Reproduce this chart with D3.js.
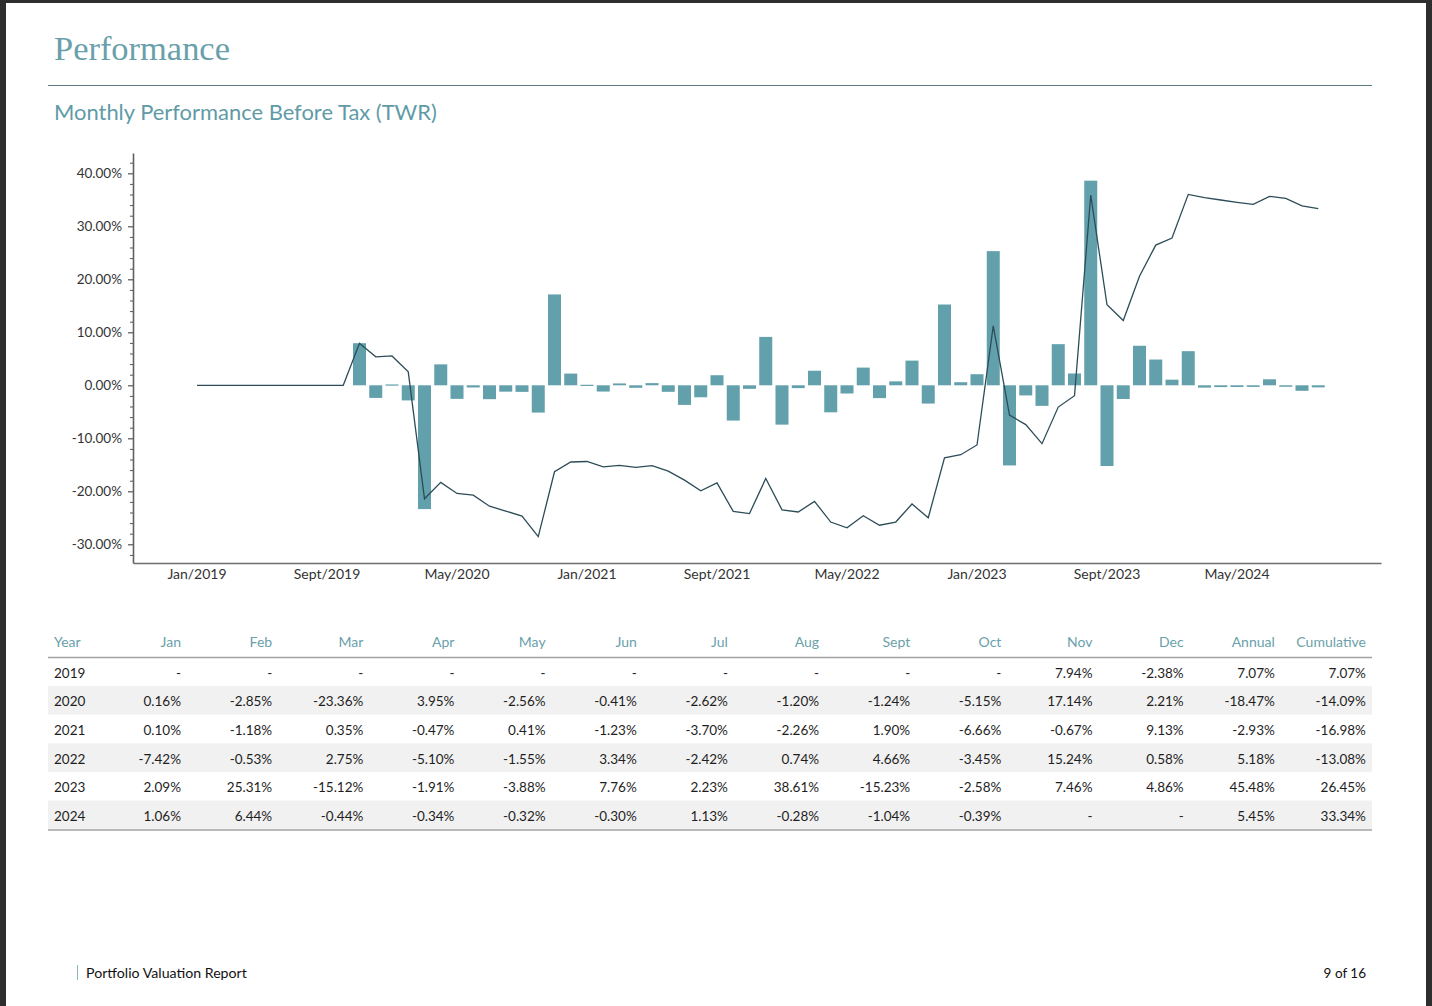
<!DOCTYPE html>
<html>
<head>
<meta charset="utf-8">
<script src="https://cdn.jsdelivr.net/npm/d3@7"></script>
<style>
  html, body { margin: 0; padding: 0; background: #2e2e2e; }
  svg { display: block; }
</style>
</head>
<body>
<svg id="page" width="1432" height="1006"></svg>
<script>
// ---------------- DATA ----------------
const months = ['Jan','Feb','Mar','Apr','May','Jun','Jul','Aug','Sept','Oct','Nov','Dec'];
const years = [2019, 2020, 2021, 2022, 2023, 2024];

// Monthly returns (%), null = no value ("-")
const returns2019 = [null, null, null, null, null, null, null, null, null, null, 7.94, -2.38];
const returns2020 = [0.16, -2.85, -23.36, 3.95, -2.56, -0.41, -2.62, -1.20, -1.24, -5.15, 17.14, 2.21];
const returns2021 = [0.10, -1.18, 0.35, -0.47, 0.41, -1.23, -3.70, -2.26, 1.90, -6.66, -0.67, 9.13];
const returns2022 = [-7.42, -0.53, 2.75, -5.10, -1.55, 3.34, -2.42, 0.74, 4.66, -3.45, 15.24, 0.58];
const returns2023 = [2.09, 25.31, -15.12, -1.91, -3.88, 7.76, 2.23, 38.61, -15.23, -2.58, 7.46, 4.86];
const returns2024 = [1.06, 6.44, -0.44, -0.34, -0.32, -0.30, 1.13, -0.28, -1.04, -0.39, null, null];
const annualReturns = [7.07, -18.47, -2.93, 5.18, 45.48, 5.45];
const cumulativeReturns = [7.07, -14.09, -16.98, -13.08, 26.45, 33.34];

// Cumulative line, Jan/2019 .. Oct/2024 (70 months)
const cumulativeLine = [
  0, 0, 0, 0, 0, 0, 0, 0, 0, 0, 7.94, 5.37,
  5.54, 2.53, -21.42, -18.32, -20.41, -20.73, -22.81, -23.74, -24.68, -28.56, -16.32, -14.47,
  -14.38, -15.39, -15.10, -15.49, -15.15, -16.19, -17.9, -19.9, -18.4, -23.8, -24.2, -17.6,
  -23.5, -23.9, -21.9, -25.8, -26.9, -24.6, -26.4, -25.8, -22.4, -25.0, -13.7, -13.1,
  -11.26, 11.20, -5.62, -7.42, -11.01, -4.11, -1.97, 35.88, 15.19, 12.21, 20.59, 26.45,
  27.79, 36.02, 35.42, 34.96, 34.53, 34.13, 35.64, 35.26, 33.85, 33.33
];

const xTickLabels = ['Jan/2019','Sept/2019','May/2020','Jan/2021','Sept/2021','May/2022','Jan/2023','Sept/2023','May/2024'];
const yTickValues = [-30, -20, -10, 0, 10, 20, 30, 40];
const yMinorTickValues = [-32,-28,-26,-24,-22,-18,-16,-14,-12,-8,-6,-4,-2,2,4,6,8,12,14,16,18,22,24,26,28,32,34,36,38,42];
const tableHeader = ['Year', ...months, 'Annual', 'Cumulative'];

// ---------------- SETUP ----------------
const returnsByYear = [returns2019, returns2020, returns2021, returns2022, returns2023, returns2024];
const monthKeys = [];
const barValues = [];
years.forEach((yr, yi) => {
  months.forEach((m, mi) => {
    monthKeys.push(m + '/' + yr);
    barValues.push(returnsByYear[yi][mi]);
  });
});
const nMonths = cumulativeLine.length;
const chartKeys = monthKeys.slice(0, nMonths);
const chartBars = barValues.slice(0, nMonths);

const svg = d3.select('#page');
const teal = '#6aa0aa';
const barColor = '#62a0ac';
const lineColor = '#2c4d58';
const fontSans = 'Lato, "Open Sans", sans-serif';

// page
svg.append('rect').attr('x', 0).attr('y', 0).attr('width', 1432).attr('height', 1006).attr('fill', '#2e2e2e');
svg.append('rect').attr('x', 6).attr('y', 3).attr('width', 1420).attr('height', 1003).attr('fill', '#ffffff');

function fitWidth(sel, w) {
  const cur = sel.node().getComputedTextLength();
  const fs = parseFloat(sel.attr('font-size'));
  if (cur > 0) sel.attr('font-size', (fs * w / cur).toFixed(2));
}

// titles
const title = svg.append('text').attr('x', 54).attr('y', 60)
  .attr('font-family', '"Liberation Serif", "DejaVu Serif", serif')
  .attr('font-size', 34).attr('fill', teal).text('Performance');
fitWidth(title, 176);

svg.append('line').attr('x1', 48).attr('x2', 1372).attr('y1', 85.5).attr('y2', 85.5)
  .attr('stroke', '#5d7a84').attr('stroke-width', 1.2);

const sub = svg.append('text').attr('x', 54).attr('y', 119.5)
  .attr('font-family', fontSans).attr('font-size', 21).attr('fill', '#5f9ba7')
  .text('Monthly Performance Before Tax (TWR)');
fitWidth(sub, 383);

// ---------------- CHART ----------------
const x = d3.scaleBand().domain(chartKeys).range([133, 1381])
  .paddingInner(0.2).paddingOuter(3.5).align(0.5055);
const y = d3.scaleLinear().domain([-33.53, 43.83]).range([563, 153]);
const bw = x.bandwidth();

const chart = svg.append('g');

// bars
chart.append('g').selectAll('rect')
  .data(chartKeys.map((k, i) => ({ k, v: chartBars[i] })).filter(d => d.v !== null))
  .join('rect')
  .attr('x', d => x(d.k))
  .attr('width', bw)
  .attr('y', d => Math.min(y(d.v), y(0)))
  .attr('height', d => Math.max(1.2, Math.abs(y(d.v) - y(0))))
  .attr('fill', barColor);

// line
const line = d3.line()
  .x((d, i) => x(chartKeys[i]) + bw / 2)
  .y(d => y(d));
chart.append('path').datum(cumulativeLine)
  .attr('d', line).attr('fill', 'none')
  .attr('stroke', lineColor).attr('stroke-width', 1.3).attr('stroke-linejoin', 'miter');

// y axis minor ticks
const yMinor = chart.append('g').attr('transform', 'translate(133,0)')
  .call(d3.axisLeft(y).tickValues(yMinorTickValues).tickSize(3).tickSizeOuter(0).tickFormat(''));
yMinor.select('.domain').remove();
yMinor.selectAll('line').attr('stroke', '#555').attr('stroke-width', 1);

// y axis major
const yAxis = chart.append('g').attr('transform', 'translate(133,0)')
  .call(d3.axisLeft(y).tickValues(yTickValues).tickSize(5).tickSizeOuter(0).tickPadding(6)
    .tickFormat(d => d.toFixed(2) + '%'));
yAxis.select('.domain').attr('stroke', '#606060').attr('stroke-width', 1.6);
yAxis.selectAll('.tick line').attr('stroke', '#555').attr('stroke-width', 1.2);
yAxis.selectAll('text').attr('font-family', fontSans).attr('font-size', 13.5).attr('fill', '#333');

// x axis
const xAxis = chart.append('g').attr('transform', 'translate(0,563)')
  .call(d3.axisBottom(x)
    .tickValues(chartKeys.filter(k => xTickLabels.includes(k)))
    .tickSize(0).tickPadding(6));
xAxis.select('.domain').attr('stroke', '#6e6e6e').attr('stroke-width', 1.6);
xAxis.selectAll('text').attr('font-family', fontSans).attr('font-size', 14).attr('fill', '#333');

// ---------------- TABLE ----------------
const tableLeft = 48, tableRight = 1372;
const headerBaseline = 646.5;
const headerLineY = 657.5;
const rowH = 28.6;
const colRight = d3.range(tableHeader.length - 1).map(i => 181 + i * 91.15);
const fmt = v => v === null ? '-' : v.toFixed(2) + '%';

const table = svg.append('g');
// row shading
years.forEach((yr, i) => {
  if (i % 2 === 1) {
    table.append('rect').attr('x', tableLeft).attr('width', tableRight - tableLeft)
      .attr('y', headerLineY + i * rowH).attr('height', rowH).attr('fill', '#f1f1f1');
  }
});
// header
table.append('g').selectAll('text').data(tableHeader).join('text')
  .attr('x', (d, i) => i === 0 ? 54 : colRight[i - 1])
  .attr('y', headerBaseline)
  .attr('text-anchor', (d, i) => i === 0 ? 'start' : 'end')
  .attr('font-family', fontSans).attr('font-size', 14).attr('fill', '#6a9fab')
  .text(d => d);
table.append('line').attr('x1', tableLeft).attr('x2', tableRight)
  .attr('y1', headerLineY).attr('y2', headerLineY).attr('stroke', '#a3a3a3').attr('stroke-width', 1.5);
table.append('line').attr('x1', tableLeft).attr('x2', tableRight)
  .attr('y1', headerLineY + years.length * rowH + 1).attr('y2', headerLineY + years.length * rowH + 1)
  .attr('stroke', '#a3a3a3').attr('stroke-width', 1.5);

years.forEach((yr, i) => {
  const cells = [String(yr), ...returnsByYear[i].map(fmt), fmt(annualReturns[i]), fmt(cumulativeReturns[i])];
  table.append('g').selectAll('text').data(cells).join('text')
    .attr('x', (d, j) => j === 0 ? 54 : colRight[j - 1])
    .attr('y', headerLineY + i * rowH + 20.3)
    .attr('text-anchor', (d, j) => j === 0 ? 'start' : 'end')
    .attr('font-family', fontSans).attr('font-size', 13.5).attr('fill', '#1e1e1e')
    .text(d => d);
});

// ---------------- FOOTER ----------------
svg.append('line').attr('x1', 77.5).attr('x2', 77.5).attr('y1', 965).attr('y2', 980)
  .attr('stroke', '#8fb6bf').attr('stroke-width', 1);
const foot = svg.append('text').attr('x', 86).attr('y', 978)
  .attr('font-family', fontSans).attr('font-size', 13.5).attr('fill', '#111')
  .text('Portfolio Valuation Report');
fitWidth(foot, 161);
svg.append('text').attr('x', 1366).attr('y', 978).attr('text-anchor', 'end')
  .attr('font-family', fontSans).attr('font-size', 13.5).attr('fill', '#111')
  .text('9 of 16');
</script>
</body>
</html>
